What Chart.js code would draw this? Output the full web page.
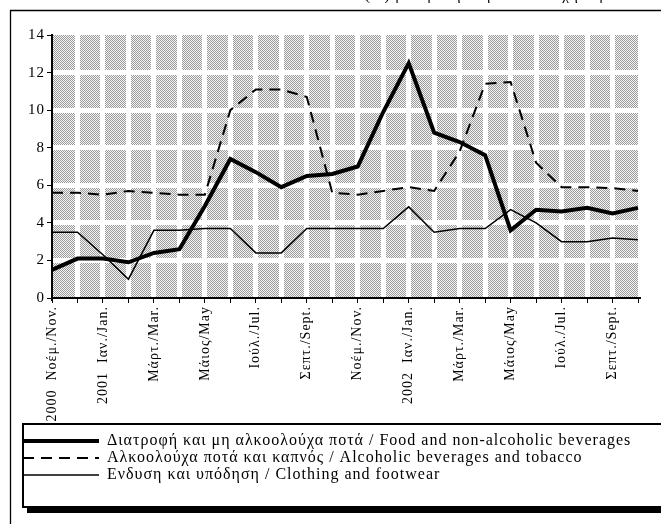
<!DOCTYPE html>
<html>
<head>
<meta charset="utf-8">
<script src="https://cdn.jsdelivr.net/npm/chart.js@4/dist/chart.umd.min.js"></script>
<style>
  html, body { margin: 0; padding: 0; background: #fff; }
</style>
</head>
<body>
<canvas id="cpiChart" width="661" height="524"></canvas>
<script>
// monthly categories, Nov 2000 - Oct 2002 (only every second one is labelled)
const months = ['2000  Νοέμ./Nov.', 'Δεκ./Dec.', '2001  Ιαν./Jan.', 'Φεβρ./Feb.', 'Μάρτ./Mar.', 'Απρ./Apr.',
  'Μάιος/May', 'Ιούν./Jun.', 'Ιούλ./Jul.', 'Αύγ./Aug.', 'Σεπτ./Sept.', 'Οκτ./Oct.',
  'Νοέμ./Nov.', 'Δεκ./Dec.', '2002  Ιαν./Jan.', 'Φεβρ./Feb.', 'Μάρτ./Mar.', 'Απρ./Apr.',
  'Μάιος/May', 'Ιούν./Jun.', 'Ιούλ./Jul.', 'Αύγ./Aug.', 'Σεπτ./Sept.', 'Οκτ./Oct.'];

const food     = [1.5, 2.1, 2.1, 1.9, 2.4, 2.6, 4.9, 7.4, 6.7, 5.9, 6.5, 6.6, 7.0, 9.9, 12.5, 8.8, 8.3, 7.6, 3.6, 4.7, 4.6, 4.8, 4.5, 4.8];
const alcohol  = [5.6, 5.6, 5.5, 5.7, 5.6, 5.5, 5.5, 10.0, 11.1, 11.1, 10.7, 5.6, 5.5, 5.7, 5.9, 5.7, 7.8, 11.4, 11.5, 7.2, 5.9, 5.9, 5.85, 5.7];
const clothing = [3.5, 3.5, 2.3, 1.0, 3.6, 3.6, 3.7, 3.7, 2.4, 2.4, 3.7, 3.7, 3.7, 3.7, 4.85, 3.5, 3.7, 3.7, 4.7, 4.0, 3.0, 3.0, 3.2, 3.1];

const seriesNames = [
  'Διατροφή και μη αλκοολούχα ποτά / Food and non-alcoholic beverages',
  'Αλκοολούχα ποτά και καπνός / Alcoholic beverages and tobacco',
  'Ενδυση και υπόδηση / Clothing and footwear'
];
const yTicks = { min: 0, max: 14, step: 2 };
const heading = '(%) μεταβολή στην αντίστοιχη περίοδο';

const serif = "'Liberation Serif', 'Times New Roman', serif";

// the scanned original has loosely spaced type
const looseText = {
  id: 'looseText',
  beforeUpdate(chart) { chart.ctx.letterSpacing = '1px'; },
  beforeDraw(chart) { chart.ctx.letterSpacing = '1px'; }
};

// halftone grey behind the plot
const patternBg = {
  id: 'patternBg',
  beforeDraw(chart) {
    const { ctx, chartArea: a } = chart;
    const tile = document.createElement('canvas');
    tile.width = 2; tile.height = 2;
    const t = tile.getContext('2d');
    t.fillStyle = '#f6f6f6'; t.fillRect(0, 0, 2, 2);
    t.fillStyle = '#999999'; t.fillRect(0, 0, 1, 1); t.fillRect(1, 1, 1, 1);
    ctx.save();
    ctx.fillStyle = ctx.createPattern(tile, 'repeat');
    ctx.fillRect(a.left, a.top, a.right - a.left, a.bottom - a.top);
    ctx.restore();
  }
};

// outer frame + shadowed legend box
const frames = {
  id: 'frames',
  afterDraw(chart) {
    const { ctx, legend: lg } = chart;
    ctx.save();
    ctx.strokeStyle = '#000';
    ctx.lineWidth = 1.3;
    ctx.beginPath();
    ctx.moveTo(10.5, 524); ctx.lineTo(10.5, 10.5); ctx.lineTo(661, 10.5);
    ctx.stroke();
    const top = lg.top - 8, bottom = lg.bottom + 14, left = 23;
    ctx.lineWidth = 2;
    ctx.strokeRect(left, top, 700 - left, bottom - top);
    ctx.fillStyle = '#000';
    ctx.fillRect(left + 4, bottom, 700, 6);
    ctx.restore();
  }
};

const edgeOrWhite = (first, last) => c => (c.index === first || c.index === last) ? 'rgba(0,0,0,0)' : '#fff';

new Chart(document.getElementById('cpiChart'), {
  type: 'line',
  data: {
    labels: months,
    datasets: [
      { label: seriesNames[0], data: food, borderColor: '#000', backgroundColor: '#000', borderWidth: 4 },
      { label: seriesNames[1], data: alcohol, borderColor: '#000', backgroundColor: '#000', borderWidth: 2, borderDash: [11, 7] },
      { label: seriesNames[2], data: clothing, borderColor: '#000', backgroundColor: '#000', borderWidth: 1.5 }
    ]
  },
  options: {
    responsive: false,
    animation: false,
    devicePixelRatio: 1,
    elements: { point: { radius: 0 }, line: { tension: 0 } },
    layout: { padding: { left: 22, right: 23, top: 0, bottom: 31 } },
    plugins: {
      tooltip: { enabled: false },
      title: {
        display: true, text: heading, align: 'end', color: '#000',
        font: { family: serif, size: 15, weight: 'normal' },
        padding: { top: -13, bottom: 30 }
      },
      legend: {
        position: 'bottom', align: 'start',
        labels: {
          usePointStyle: true, pointStyle: 'line', pointStyleWidth: 76,
          padding: 1, color: '#000',
          font: { family: serif, size: 16 },
          generateLabels: chart => Chart.defaults.plugins.legend.labels.generateLabels(chart).map((item, i) => {
            const ds = chart.data.datasets[i];
            return Object.assign(item, { lineWidth: ds.borderWidth, lineDash: ds.borderDash || [] });
          })
        }
      }
    },
    scales: {
      x: {
        ticks: {
          autoSkip: false, maxRotation: 90, minRotation: 90, padding: 3, color: '#000',
          font: { family: serif, size: 14 },
          callback: (v, i) => i % 2 ? '' : months[i]
        },
        grid: { color: edgeOrWhite(0, months.length - 1), lineWidth: 5, tickColor: '#000', tickWidth: 1, tickLength: 5 },
        border: { color: '#000', width: 2 },
        afterFit: s => { s.height = 134; }
      },
      y: {
        min: yTicks.min, max: yTicks.max,
        ticks: { stepSize: yTicks.step, padding: 2, color: '#000', font: { family: serif, size: 15 } },
        grid: { color: edgeOrWhite(0, 7), lineWidth: 5, tickColor: '#000', tickWidth: 1, tickLength: 5 },
        border: { color: '#000', width: 2 },
        afterFit: s => { s.width = 30; }
      }
    }
  },
  plugins: [looseText, patternBg, frames]
});
</script>
</body>
</html>
